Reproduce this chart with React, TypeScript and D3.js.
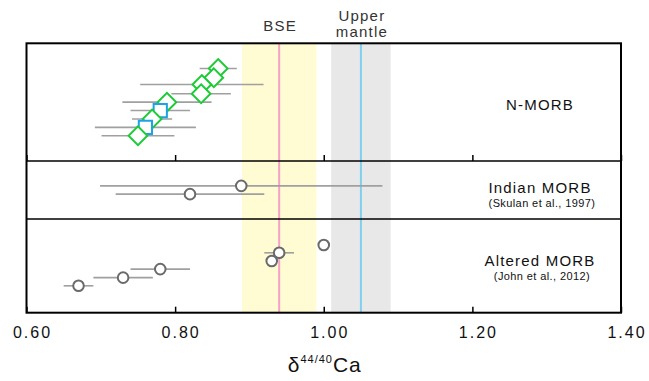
import React, { useEffect, useRef } from 'react';
import * as d3 from 'd3';

const W = 649;
const H = 381;

// x axis
const X_DOMAIN = [0.6, 1.4];
const X_TICKS = [0.6, 0.8, 1.0, 1.2, 1.4];
const X_TICK_LABELS = ['0.60', '0.80', '1.00', '1.20', '1.40'];

// reference bands: centre and half-width
const BAND_NAMES = ['BSE', 'Upper mantle'];
const BAND_CENTERS = [0.94, 1.05];
const BAND_HALF_WIDTHS = [0.05, 0.04];

// N-MORB
const NMORB_VALUES = [0.858, 0.852, 0.836, 0.835, 0.789, 0.78, 0.769, 0.76, 0.75];
const NMORB_ERRORS = [0.025, 0.01, 0.083, 0.04, 0.06, 0.04, 0.027, 0.068, 0.049];
const NMORB_ROWS = [3, 4.1, 4.9, 6, 7, 8, 9, 10, 11];
const NMORB_SHAPES = ['diamond', 'diamond', 'diamond', 'diamond', 'diamond', 'square', 'diamond', 'square', 'diamond'];

// Indian MORB (Skulan et al., 1997)
const INDIAN_VALUES = [0.889, 0.82];
const INDIAN_ERRORS = [0.19, 0.1];
const INDIAN_ROWS = [3, 4];

// Altered MORB (John et al., 2012)
const ALTERED_VALUES = [1.0, 0.94, 0.93, 0.78, 0.73, 0.67];
const ALTERED_ERRORS = [0, 0.02, 0, 0.04, 0.04, 0.02];
const ALTERED_ROWS = [3.2, 4.15, 5.15, 6.15, 7.2, 8.2];

const PANEL_TITLES = ['N-MORB', 'Indian MORB', 'Altered MORB'];
const PANEL_SOURCES = ['', '(Skulan et al., 1997)', '(John et al., 2012)'];

const FONT = "Arial, 'Liberation Sans', Helvetica, sans-serif";

export default function App() {
  const ref = useRef<SVGSVGElement>(null);

  useEffect(() => {
    const svg = d3.select(ref.current);
    svg.selectAll('*').remove();

    const left = 26.5;
    const right = 621;
    const top = 43.3;
    const bottom = 312.7;
    const dividers = [161, 219];

    const x = d3.scaleLinear().domain(X_DOMAIN).range([left, right]);

    const panels = [
      { y0: top, y1: dividers[0], rows: 14, values: NMORB_VALUES, errors: NMORB_ERRORS, idx: NMORB_ROWS, shapes: NMORB_SHAPES, titleY: 110, srcY: 0, ticks: true },
      { y0: dividers[0], y1: dividers[1], rows: 7, values: INDIAN_VALUES, errors: INDIAN_ERRORS, idx: INDIAN_ROWS, shapes: INDIAN_VALUES.map(() => 'circle'), titleY: 193.3, srcY: 206.7, ticks: false },
      { y0: dividers[1], y1: bottom, rows: 11.5, values: ALTERED_VALUES, errors: ALTERED_ERRORS, idx: ALTERED_ROWS, shapes: ALTERED_VALUES.map(() => 'circle'), titleY: 266, srcY: 280, ticks: true },
    ];

    // background bands
    const bandFill = ['#fffbd3', '#e8e8e8'];
    const bandLine = ['#f7a1c8', '#7fd0ee'];
    BAND_CENTERS.forEach((c, i) => {
      const h = BAND_HALF_WIDTHS[i];
      svg.append('rect')
        .attr('x', x(c - h)).attr('y', top)
        .attr('width', x(c + h) - x(c - h)).attr('height', bottom - top)
        .attr('fill', bandFill[i]);
    });
    BAND_CENTERS.forEach((c, i) => {
      svg.append('line')
        .attr('x1', x(c)).attr('x2', x(c)).attr('y1', top).attr('y2', bottom)
        .attr('stroke', bandLine[i]).attr('stroke-width', 2);
    });

    // band headings
    const head = svg.append('g').attr('font-family', FONT).attr('font-size', 15)
      .attr('fill', '#333').attr('text-anchor', 'middle').attr('letter-spacing', 1.2);
    head.append('text').attr('x', x(BAND_CENTERS[0]) + 1).attr('y', 31).text(BAND_NAMES[0]);
    const words = BAND_NAMES[1].split(' ');
    head.append('text').attr('x', x(BAND_CENTERS[1]) + 1).attr('y', 21).text(words[0]);
    head.append('text').attr('x', x(BAND_CENTERS[1]) + 1).attr('y', 37).text(words[1]);

    const symbolSize = 175;
    const squarePath = d3.symbol().type(d3.symbolSquare).size(symbolSize)() as string;

    panels.forEach((p, pi) => {
      const y = d3.scaleLinear().domain([0, p.rows]).range([p.y0, p.y1]);
      const g = svg.append('g');

      // inward ticks on the bottom edge of the panel
      if (p.ticks) {
        const axis = d3.axisBottom(x).tickValues(X_TICKS).tickSizeInner(-6).tickSizeOuter(0).tickFormat(() => '');
        const ag = g.append('g').attr('transform', `translate(0,${p.y1})`).call(axis);
        ag.select('.domain').remove();
        ag.selectAll('line').attr('stroke', '#000').attr('stroke-width', 1.5);
      }

      // error bars
      p.values.forEach((v, i) => {
        const e = p.errors[i];
        if (e > 0) {
          g.append('line')
            .attr('x1', x(v - e)).attr('x2', x(v + e))
            .attr('y1', y(p.idx[i])).attr('y2', y(p.idx[i]))
            .attr('stroke', '#a0a0a0').attr('stroke-width', 1.6);
        }
      });

      // markers
      p.values.forEach((v, i) => {
        const cx = x(v);
        const cy = y(p.idx[i]);
        const shape = p.shapes[i];
        if (shape === 'circle') {
          g.append('circle').attr('cx', cx).attr('cy', cy).attr('r', 5.3)
            .attr('fill', '#fff').attr('stroke', '#6a6a6a').attr('stroke-width', 2);
        } else if (shape === 'square') {
          g.append('path').attr('d', squarePath).attr('transform', `translate(${cx},${cy})`)
            .attr('fill', '#fff').attr('stroke', '#1ea2e6').attr('stroke-width', 2);
        } else {
          g.append('path').attr('d', squarePath).attr('transform', `translate(${cx},${cy}) rotate(45)`)
            .attr('fill', '#fff').attr('stroke', '#1ccb36').attr('stroke-width', 2);
        }
      });

      // panel label
      const lg = g.append('g').attr('font-family', FONT).attr('text-anchor', 'middle').attr('fill', '#111');
      lg.append('text').attr('x', 540).attr('y', p.titleY).attr('font-size', 15).attr('letter-spacing', 1.2).text(PANEL_TITLES[pi]);
      if (PANEL_SOURCES[pi]) {
        lg.append('text').attr('x', 542).attr('y', p.srcY).attr('font-size', 11).attr('letter-spacing', 0.4).text(PANEL_SOURCES[pi]);
      }
    });

    // panel dividers
    dividers.forEach((d) => {
      svg.append('line').attr('x1', left).attr('x2', right).attr('y1', d).attr('y2', d)
        .attr('stroke', '#000').attr('stroke-width', 1.6);
    });

    // outer frame
    svg.append('rect').attr('x', left).attr('y', top).attr('width', right - left).attr('height', bottom - top)
      .attr('fill', 'none').attr('stroke', '#000').attr('stroke-width', 2);

    // tick labels
    const tl = svg.append('g').attr('font-family', FONT).attr('font-size', 16).attr('text-anchor', 'middle')
      .attr('fill', '#111').attr('letter-spacing', 2);
    X_TICKS.forEach((t, i) => {
      tl.append('text').attr('x', x(t) + 6).attr('y', 338).text(X_TICK_LABELS[i]);
    });

    // axis title: δ44/40Ca
    const title = svg.append('text').attr('font-family', FONT).attr('font-size', 21)
      .attr('text-anchor', 'middle').attr('x', x(1.0) + 1).attr('y', 372).attr('fill', '#111').attr('letter-spacing', 1);
    title.append('tspan').text('δ');
    title.append('tspan').attr('font-size', 11).attr('dy', -9).text('44/40');
    title.append('tspan').attr('dy', 9).text('Ca');
  }, []);

  return (
    <svg
      ref={ref}
      width={W}
      height={H}
      style={{ position: 'absolute', left: 0, top: 0, background: '#fff' }}
    />
  );
}
